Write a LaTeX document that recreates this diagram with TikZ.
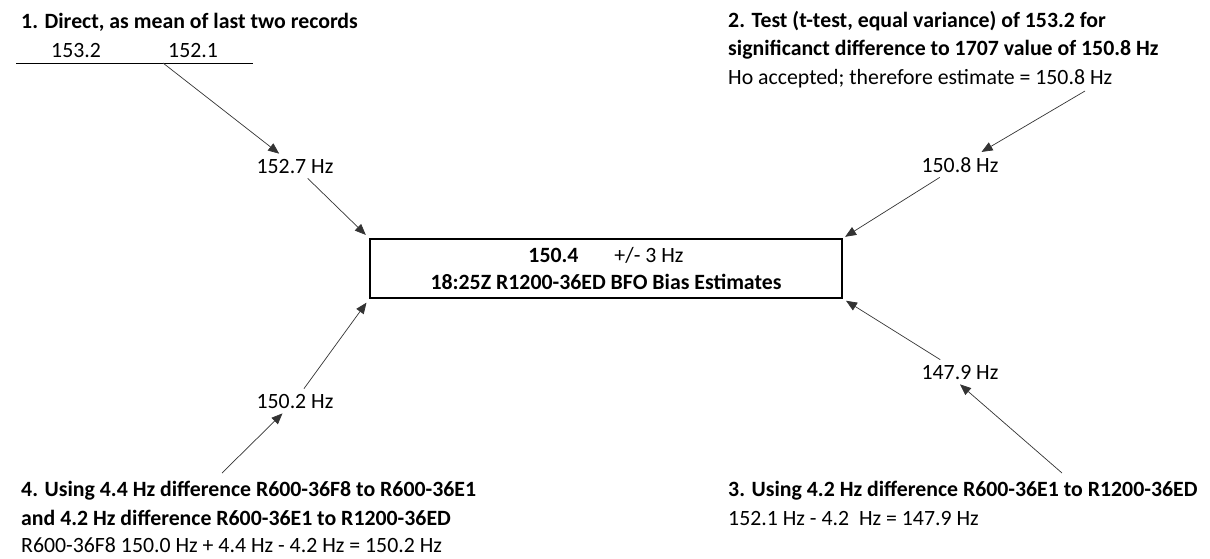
\documentclass[tikz,border=0pt]{standalone}
\usepackage{fontspec}
\setmainfont{Carlito}
\usetikzlibrary{arrows.meta}

\begin{document}
\begin{tikzpicture}[
  x=1pt, y=-1pt,
  font=\fontsize{21.8}{27}\selectfont,
  txt/.style={anchor=base west, inner sep=0pt},
  head/.style={txt, font=\fontsize{21.8}{27}\selectfont\bfseries},
  hz/.style={anchor=base, inner sep=5pt},
  est/.style={draw, line width=1.2pt, align=center, minimum width=472pt, minimum height=59pt},
  >={Triangle[length=11pt, width=9pt]},
  conn/.style={->, line width=0.7pt, draw=black!80}
]
\useasboundingbox (0,0) rectangle (1210,558);

% 1. direct
\node[head] (t1) at (21,28) {1. Direct, as mean of last two records};
\node[txt] (n1) at (51,57) {153.2};
\node[txt] (n2) at (168,57) {152.1};
\draw[line width=0.8pt] (16,63) coordinate (ruleL) -- (253,63) coordinate (ruleR);
\coordinate (r1) at (163,63);

% 2. t-test
\node[head] (t2a) at (728,27) {2. Test (t-test, equal variance) of 153.2 for};
\node[head] (t2b) at (728,55) {significanct difference to 1707 value of 150.8 Hz};
\node[txt] (t2c) at (728,84) {Ho accepted; therefore estimate = 150.8 Hz};
\coordinate (h2) at (1085,91);

% estimates
\node[hz] (v1) at (295,173) {152.7 Hz};
\node[hz] (v2) at (960,172) {150.8 Hz};
\node[est] (box) at (606,268.5) {\textbf{150.4}\hspace{36pt}+/- 3 Hz\\\textbf{18:25Z R1200-36ED BFO Bias Estimates}};
\node[hz] (v3) at (960,379) {147.9 Hz};
\node[hz] (v4) at (295,408) {150.2 Hz};

% 3. and 4.
\node[head] (t3a) at (728,496) {3. Using 4.2 Hz difference R600-36E1 to R1200-36ED};
\node[txt] (t3b) at (728,525) {152.1 Hz - 4.2\ \ Hz = 147.9 Hz};
\coordinate (h3) at (1062,473);
\node[head] (t4a) at (21,496) {4. Using 4.4 Hz difference R600-36F8 to R600-36E1};
\node[head] (t4b) at (21,525) {and 4.2 Hz difference R600-36E1 to R1200-36ED};
\node[txt] (t4c) at (21,552) {R600-36F8 150.0 Hz + 4.4 Hz - 4.2 Hz = 150.2 Hz};
\coordinate (h4) at (222,473);

\draw[conn] (r1) -- (v1);
\draw[conn, shorten >=5pt] (v1) -- (box.north west);
\draw[conn] (h2) -- (v2);
\draw[conn, shorten >=3pt] (v2) -- (box.north east);
\draw[conn] (h3) -- (v3.south);
\draw[conn, shorten >=4pt] (v3) -- (box.south east);
\draw[conn] (h4) -- (v4);
\draw[conn, shorten >=5pt] (v4) -- (box.south west);
\end{tikzpicture}
\end{document}
